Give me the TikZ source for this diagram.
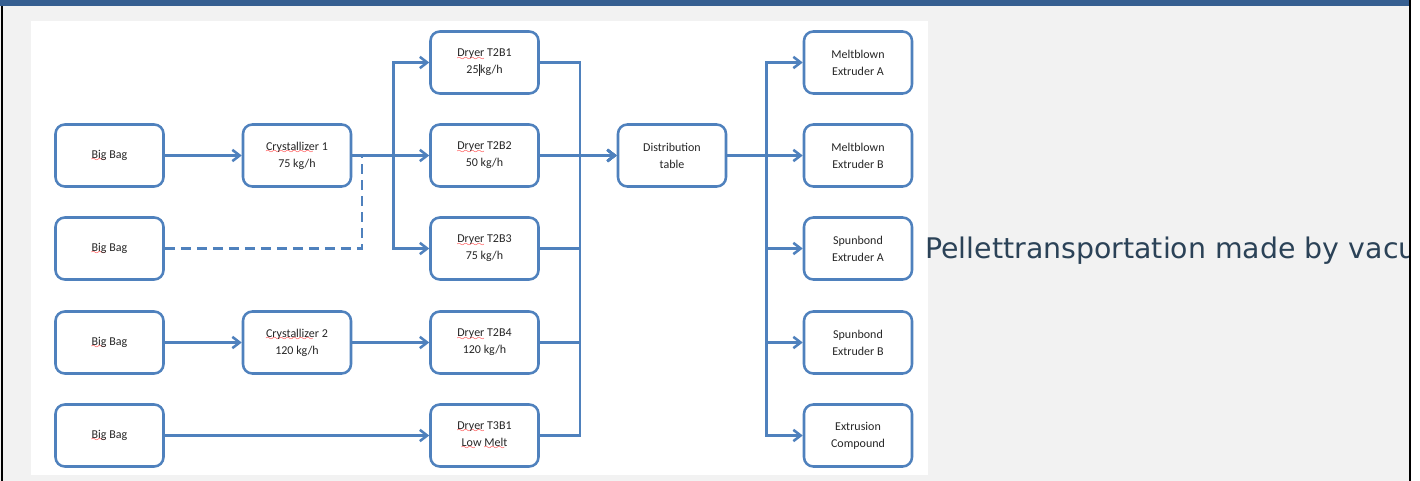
\documentclass[tikz,border=0pt]{standalone}
\usepackage{fontspec}
\setmainfont{Carlito}
\newfontfamily\notefont{DejaVu Sans}
\usetikzlibrary{arrows.meta}
\definecolor{boxblue}{HTML}{4F81BD}
\definecolor{barblue}{HTML}{365F91}
\definecolor{slidegray}{HTML}{F2F2F2}
\definecolor{notecol}{HTML}{2B4257}
\font\sixly=lasy6
\newcommand\spellmark[1]{\setbox0\hbox{#1}\rlap{\lower2.4pt\hbox to\wd0{\color{red}\leaders\hbox{\sixly\char58}\hfil}}\box0\relax}
\newcommand\cursorbar{\hspace{0.6pt}\rule[-1.5pt]{0.5pt}{9pt}}

\begin{document}
\begin{tikzpicture}[x=0.75pt,y=-0.75pt,
    unit/.style={draw=boxblue,line width=1.9pt,rounded corners=7pt,fill=white,
      minimum width=81pt,minimum height=46.5pt,inner sep=1pt,align=center,
      text=black!85,font=\fontsize{9}{12.75}\selectfont},
    pipe/.style={draw=boxblue,line width=1.9pt},
    flow/.style={pipe,-{Straight Barb[length=5.5pt,width=8.5pt]}}]
    \useasboundingbox (0,0) rectangle (1420,481);
    \fill[slidegray] (0,0) rectangle (1420,481);
    \fill[white] (31,21) rectangle (928,475);
    \fill[barblue] (0,0) rectangle (1410,6);

    \node[unit] (bag1) at (109.5,155.5) {\spellmark{Big} Bag};
    \node[unit] (bag2) at (109.5,248.5) {\spellmark{Big} Bag};
    \node[unit] (bag3) at (109.5,342.5) {\spellmark{Big} Bag};
    \node[unit] (bag4) at (109.5,435.5) {\spellmark{Big} Bag};
    \node[unit] (cry1) at (297,155.5) {\spellmark{Crystallizer} 1\\75 kg/h};
    \node[unit] (cry2) at (297,342.5) {\spellmark{Crystallizer} 2\\120 kg/h};
    \node[unit] (t2b1) at (484.5,62.5) {\spellmark{Dryer} T2B1\\25\cursorbar kg/h};
    \node[unit] (t2b2) at (484.5,155.5) {\spellmark{Dryer} T2B2\\50 kg/h};
    \node[unit] (t2b3) at (484.5,248.5) {\spellmark{Dryer} T2B3\\75 kg/h};
    \node[unit] (t2b4) at (484.5,342.5) {\spellmark{Dryer} T2B4\\120 kg/h};
    \node[unit] (t3b1) at (484.5,435.5) {\spellmark{Dryer} T3B1\\\spellmark{Low} \spellmark{Melt}};
    \node[unit] (dist) at (672,155.5) {Distribution\\table};
    \node[unit] (mbA) at (858,62.5) {Meltblown\\Extruder A};
    \node[unit] (mbB) at (858,155.5) {Meltblown\\Extruder B};
    \node[unit] (sbA) at (858,248.5) {Spunbond\\Extruder A};
    \node[unit] (sbB) at (858,342.5) {Spunbond\\Extruder B};
    \node[unit] (exc) at (858,435.5) {Extrusion\\Compound};
    \coordinate (merge) at (362,155.5);

    \draw[flow] (bag1) -- (cry1);
    \draw[flow] (cry1) -- (t2b2);
    \draw[flow] (cry1.east) -- ++(41,0) |- (t2b1);
    \draw[flow] (cry1.east) -- ++(41,0) |- (t2b3);
    \draw[pipe,dash pattern=on 7.5pt off 4.5pt] (bag2.east) -| (merge);
    \draw[flow] (bag3) -- (cry2);
    \draw[flow] (cry2) -- (t2b4);
    \draw[flow] (bag4) -- (t3b1);
    \foreach \d in {t2b1,t2b2,t2b3,t2b4,t3b1}
        \draw[flow] (\d.east) -- ++(40,0) |- (dist);
    \foreach \e in {mbA,mbB,sbA,sbB,exc}
        \draw[flow] (dist.east) -- ++(39,0) |- (\e);

    \node[anchor=base west,inner sep=0,text=notecol,font=\notefont\fontsize{21.3}{25}\selectfont]
        (note) at (925,258) {Pellettransportation made by vacu};
    \fill[white] (1411,0) rectangle (1420,481);
    \fill[black] (1409,0) rectangle (1411,481);
    \fill[black] (1,6) rectangle (3,481);
\end{tikzpicture}
\end{document}
